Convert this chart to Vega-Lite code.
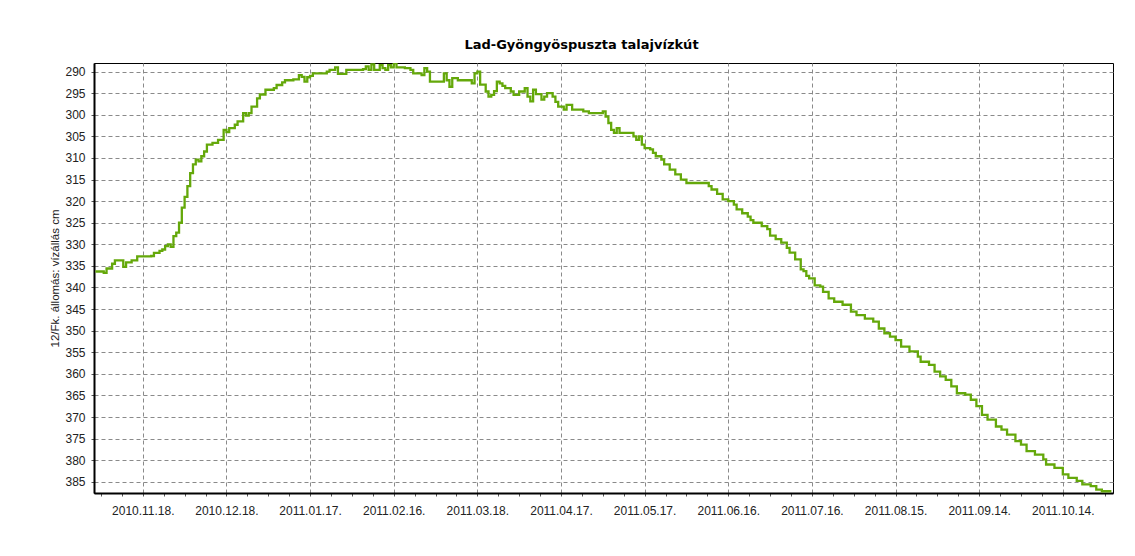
{
  "$schema": "https://vega.github.io/schema/vega-lite/v6.json",
  "width": 1019,
  "height": 430,
  "autosize": "none",
  "padding": {"left": 94, "top": 63, "right": 22, "bottom": 63},
  "background": "white",
  "config": {
    "font": "Liberation Sans",
    "view": {"stroke": "black", "strokeWidth": 1}
  },
  "title": {
    "text": "Lad-Gyöngyöspuszta talajvízkút",
    "fontSize": 13,
    "fontWeight": "bold",
    "color": "black",
    "font": "DejaVu Sans",
    "offset": 11,
    "anchor": "middle",
    "frame": "bounds"
  },
  "data": {
    "values": [
      {"date": "2010-11-01", "level": 336.3},
      {"date": "2010-11-04", "level": 336.6},
      {"date": "2010-11-05", "level": 335.6},
      {"date": "2010-11-07", "level": 334.5},
      {"date": "2010-11-08", "level": 333.7},
      {"date": "2010-11-10", "level": 333.7},
      {"date": "2010-11-11", "level": 335.2},
      {"date": "2010-11-12", "level": 334.2},
      {"date": "2010-11-14", "level": 333.7},
      {"date": "2010-11-16", "level": 332.8},
      {"date": "2010-11-21", "level": 332.7},
      {"date": "2010-11-22", "level": 332.0},
      {"date": "2010-11-24", "level": 331.5},
      {"date": "2010-11-25", "level": 331.2},
      {"date": "2010-11-26", "level": 330.4},
      {"date": "2010-11-27", "level": 330.0},
      {"date": "2010-11-28", "level": 330.6},
      {"date": "2010-11-29", "level": 328.1},
      {"date": "2010-11-30", "level": 327.3},
      {"date": "2010-12-01", "level": 325.0},
      {"date": "2010-12-02", "level": 321.5},
      {"date": "2010-12-03", "level": 319.0},
      {"date": "2010-12-04", "level": 316.5},
      {"date": "2010-12-05", "level": 313.5},
      {"date": "2010-12-06", "level": 311.5},
      {"date": "2010-12-07", "level": 310.4},
      {"date": "2010-12-08", "level": 310.8},
      {"date": "2010-12-09", "level": 309.6},
      {"date": "2010-12-10", "level": 308.5},
      {"date": "2010-12-11", "level": 306.9},
      {"date": "2010-12-13", "level": 306.5},
      {"date": "2010-12-15", "level": 305.8},
      {"date": "2010-12-17", "level": 303.5},
      {"date": "2010-12-18", "level": 304.0},
      {"date": "2010-12-19", "level": 303.1},
      {"date": "2010-12-21", "level": 302.3},
      {"date": "2010-12-22", "level": 301.5},
      {"date": "2010-12-24", "level": 299.6},
      {"date": "2010-12-25", "level": 300.2},
      {"date": "2010-12-26", "level": 299.6},
      {"date": "2010-12-27", "level": 298.1},
      {"date": "2010-12-29", "level": 296.2},
      {"date": "2010-12-30", "level": 295.3},
      {"date": "2011-01-01", "level": 294.2},
      {"date": "2011-01-04", "level": 293.8},
      {"date": "2011-01-05", "level": 293.1},
      {"date": "2011-01-07", "level": 292.5},
      {"date": "2011-01-08", "level": 292.0},
      {"date": "2011-01-11", "level": 291.8},
      {"date": "2011-01-13", "level": 290.8},
      {"date": "2011-01-14", "level": 291.2},
      {"date": "2011-01-15", "level": 292.3},
      {"date": "2011-01-16", "level": 291.3},
      {"date": "2011-01-17", "level": 291.0},
      {"date": "2011-01-18", "level": 290.4},
      {"date": "2011-01-22", "level": 290.4},
      {"date": "2011-01-23", "level": 290.0},
      {"date": "2011-01-24", "level": 289.6},
      {"date": "2011-01-26", "level": 289.0},
      {"date": "2011-01-27", "level": 290.5},
      {"date": "2011-01-28", "level": 290.5},
      {"date": "2011-01-30", "level": 289.6},
      {"date": "2011-02-05", "level": 289.4},
      {"date": "2011-02-06", "level": 288.8},
      {"date": "2011-02-07", "level": 289.6},
      {"date": "2011-02-08", "level": 288.3},
      {"date": "2011-02-09", "level": 289.6},
      {"date": "2011-02-11", "level": 288.5},
      {"date": "2011-02-12", "level": 289.2},
      {"date": "2011-02-13", "level": 289.6},
      {"date": "2011-02-14", "level": 288.5},
      {"date": "2011-02-15", "level": 289.0},
      {"date": "2011-02-16", "level": 288.0},
      {"date": "2011-02-17", "level": 289.0},
      {"date": "2011-02-20", "level": 289.2},
      {"date": "2011-02-22", "level": 289.6},
      {"date": "2011-02-23", "level": 290.4},
      {"date": "2011-02-26", "level": 290.8},
      {"date": "2011-02-27", "level": 289.2},
      {"date": "2011-02-28", "level": 290.0},
      {"date": "2011-03-01", "level": 292.3},
      {"date": "2011-03-05", "level": 292.3},
      {"date": "2011-03-06", "level": 290.4},
      {"date": "2011-03-07", "level": 292.0},
      {"date": "2011-03-08", "level": 293.5},
      {"date": "2011-03-09", "level": 291.5},
      {"date": "2011-03-11", "level": 292.0},
      {"date": "2011-03-15", "level": 292.0},
      {"date": "2011-03-16", "level": 292.7},
      {"date": "2011-03-17", "level": 290.4},
      {"date": "2011-03-18", "level": 290.0},
      {"date": "2011-03-19", "level": 293.0},
      {"date": "2011-03-21", "level": 294.6},
      {"date": "2011-03-22", "level": 295.8},
      {"date": "2011-03-23", "level": 295.4},
      {"date": "2011-03-24", "level": 294.5},
      {"date": "2011-03-25", "level": 292.3},
      {"date": "2011-03-26", "level": 292.7},
      {"date": "2011-03-27", "level": 293.3},
      {"date": "2011-03-28", "level": 293.8},
      {"date": "2011-03-30", "level": 294.6},
      {"date": "2011-03-31", "level": 295.4},
      {"date": "2011-04-02", "level": 294.6},
      {"date": "2011-04-04", "level": 293.8},
      {"date": "2011-04-05", "level": 295.8},
      {"date": "2011-04-06", "level": 296.9},
      {"date": "2011-04-07", "level": 294.2},
      {"date": "2011-04-08", "level": 295.2},
      {"date": "2011-04-10", "level": 296.5},
      {"date": "2011-04-11", "level": 295.8},
      {"date": "2011-04-12", "level": 295.0},
      {"date": "2011-04-14", "level": 295.8},
      {"date": "2011-04-15", "level": 297.0},
      {"date": "2011-04-16", "level": 298.1},
      {"date": "2011-04-18", "level": 298.8},
      {"date": "2011-04-19", "level": 297.7},
      {"date": "2011-04-21", "level": 298.8},
      {"date": "2011-04-25", "level": 299.2},
      {"date": "2011-04-27", "level": 299.6},
      {"date": "2011-05-01", "level": 299.6},
      {"date": "2011-05-02", "level": 299.2},
      {"date": "2011-05-03", "level": 300.4},
      {"date": "2011-05-04", "level": 301.9},
      {"date": "2011-05-05", "level": 303.5},
      {"date": "2011-05-06", "level": 304.2},
      {"date": "2011-05-07", "level": 303.1},
      {"date": "2011-05-08", "level": 304.2},
      {"date": "2011-05-13", "level": 305.0},
      {"date": "2011-05-14", "level": 305.8},
      {"date": "2011-05-15", "level": 305.0},
      {"date": "2011-05-16", "level": 306.9},
      {"date": "2011-05-17", "level": 307.7},
      {"date": "2011-05-19", "level": 308.0},
      {"date": "2011-05-20", "level": 308.8},
      {"date": "2011-05-21", "level": 309.6},
      {"date": "2011-05-23", "level": 310.4},
      {"date": "2011-05-24", "level": 311.5},
      {"date": "2011-05-26", "level": 312.7},
      {"date": "2011-05-28", "level": 313.8},
      {"date": "2011-05-30", "level": 315.0},
      {"date": "2011-06-01", "level": 315.8},
      {"date": "2011-06-08", "level": 315.8},
      {"date": "2011-06-09", "level": 316.5},
      {"date": "2011-06-10", "level": 317.3},
      {"date": "2011-06-12", "level": 318.3},
      {"date": "2011-06-14", "level": 319.6},
      {"date": "2011-06-16", "level": 320.0},
      {"date": "2011-06-18", "level": 320.8},
      {"date": "2011-06-19", "level": 321.9},
      {"date": "2011-06-21", "level": 322.8},
      {"date": "2011-06-23", "level": 323.6},
      {"date": "2011-06-24", "level": 324.4},
      {"date": "2011-06-25", "level": 325.0},
      {"date": "2011-06-28", "level": 325.8},
      {"date": "2011-06-30", "level": 326.5},
      {"date": "2011-07-01", "level": 328.0},
      {"date": "2011-07-03", "level": 328.8},
      {"date": "2011-07-05", "level": 329.6},
      {"date": "2011-07-07", "level": 330.8},
      {"date": "2011-07-08", "level": 331.9},
      {"date": "2011-07-10", "level": 333.5},
      {"date": "2011-07-12", "level": 335.8},
      {"date": "2011-07-13", "level": 336.2},
      {"date": "2011-07-14", "level": 337.3},
      {"date": "2011-07-15", "level": 337.9},
      {"date": "2011-07-17", "level": 339.5},
      {"date": "2011-07-19", "level": 339.8},
      {"date": "2011-07-20", "level": 341.0},
      {"date": "2011-07-22", "level": 342.5},
      {"date": "2011-07-24", "level": 343.3},
      {"date": "2011-07-27", "level": 344.0},
      {"date": "2011-07-30", "level": 345.6},
      {"date": "2011-08-01", "level": 346.4},
      {"date": "2011-08-04", "level": 347.2},
      {"date": "2011-08-07", "level": 347.9},
      {"date": "2011-08-09", "level": 349.5},
      {"date": "2011-08-11", "level": 350.6},
      {"date": "2011-08-13", "level": 351.4},
      {"date": "2011-08-15", "level": 352.2},
      {"date": "2011-08-17", "level": 353.7},
      {"date": "2011-08-20", "level": 354.8},
      {"date": "2011-08-23", "level": 356.0},
      {"date": "2011-08-24", "level": 357.2},
      {"date": "2011-08-27", "level": 357.9},
      {"date": "2011-08-29", "level": 359.5},
      {"date": "2011-08-31", "level": 360.6},
      {"date": "2011-09-02", "level": 361.4},
      {"date": "2011-09-04", "level": 362.9},
      {"date": "2011-09-06", "level": 364.5},
      {"date": "2011-09-09", "level": 364.8},
      {"date": "2011-09-11", "level": 366.0},
      {"date": "2011-09-13", "level": 367.5},
      {"date": "2011-09-15", "level": 369.5},
      {"date": "2011-09-17", "level": 370.6},
      {"date": "2011-09-20", "level": 372.2},
      {"date": "2011-09-22", "level": 372.9},
      {"date": "2011-09-24", "level": 374.1},
      {"date": "2011-09-27", "level": 375.6},
      {"date": "2011-09-29", "level": 376.4},
      {"date": "2011-10-01", "level": 377.9},
      {"date": "2011-10-04", "level": 378.7},
      {"date": "2011-10-07", "level": 379.8},
      {"date": "2011-10-08", "level": 381.0},
      {"date": "2011-10-11", "level": 381.8},
      {"date": "2011-10-14", "level": 383.3},
      {"date": "2011-10-16", "level": 384.1},
      {"date": "2011-10-19", "level": 384.8},
      {"date": "2011-10-21", "level": 385.6},
      {"date": "2011-10-24", "level": 386.0},
      {"date": "2011-10-26", "level": 386.8},
      {"date": "2011-10-28", "level": 387.2},
      {"date": "2011-10-31", "level": 387.5}
    ]
  },
  "mark": {"type": "line", "interpolate": "step-after", "color": "#64a80a", "strokeWidth": 2.3, "clip": true},
  "encoding": {
    "x": {
      "field": "date",
      "type": "temporal",
      "title": null,
      "scale": {"type": "utc", "domain": [1288526400000, 1320105600000], "nice": false},
      "axis": {
        "values": [1288742400000, 1289390400000, 1290038400000, 1290686400000, 1291334400000, 1291982400000, 1292630400000, 1293278400000, 1293926400000, 1294574400000, 1295222400000, 1295870400000, 1296518400000, 1297166400000, 1297814400000, 1298462400000, 1299110400000, 1299758400000, 1300406400000, 1301054400000, 1301702400000, 1302350400000, 1302998400000, 1303646400000, 1304294400000, 1304942400000, 1305590400000, 1306238400000, 1306886400000, 1307534400000, 1308182400000, 1308830400000, 1309478400000, 1310126400000, 1310774400000, 1311422400000, 1312070400000, 1312718400000, 1313366400000, 1314014400000, 1314662400000, 1315310400000, 1315958400000, 1316606400000, 1317254400000, 1317902400000, 1318550400000, 1319198400000, 1319846400000],
        "format": "%Y.%m.%d.",
        "labelExpr": "((+datum.value) - 1290038400000) % 2592000000 == 0 ? datum.label : ''",
        "labelOverlap": false,
        "labelBound": false,
        "labelFont": "Liberation Sans",
        "labelFontSize": 12,
        "labelColor": "#222222",
        "labelPadding": 9,
        "tickSize": 3,
        "tickColor": "#555555",
        "domainColor": "black",
        "domainWidth": 2,
        "grid": true,
        "gridColor": "#8a8a8a",
        "gridDash": [4, 3],
        "gridWidth": 1,
        "gridOpacity": {"condition": {"test": "((+datum.value) - 1290038400000) % 2592000000 == 0", "value": 1}, "value": 0}
      }
    },
    "y": {
      "field": "level",
      "type": "quantitative",
      "title": "12/Fk. állomás: vízállás cm",
      "scale": {"domain": [288, 387.6], "reverse": true, "zero": false, "nice": false},
      "axis": {
        "values": [290, 295, 300, 305, 310, 315, 320, 325, 330, 335, 340, 345, 350, 355, 360, 365, 370, 375, 380, 385],
        "labelFont": "Liberation Sans",
        "labelFontSize": 12,
        "labelColor": "#222222",
        "labelPadding": 6,
        "tickSize": 3,
        "tickColor": "#555555",
        "domainColor": "black",
        "domainWidth": 2,
        "grid": true,
        "gridColor": "#8a8a8a",
        "gridDash": [4, 3],
        "gridWidth": 1,
        "titleFont": "Liberation Sans",
        "titleFontSize": 11.5,
        "titleFontWeight": "normal",
        "titleColor": "#222222",
        "titlePadding": 4
      }
    }
  }
}
